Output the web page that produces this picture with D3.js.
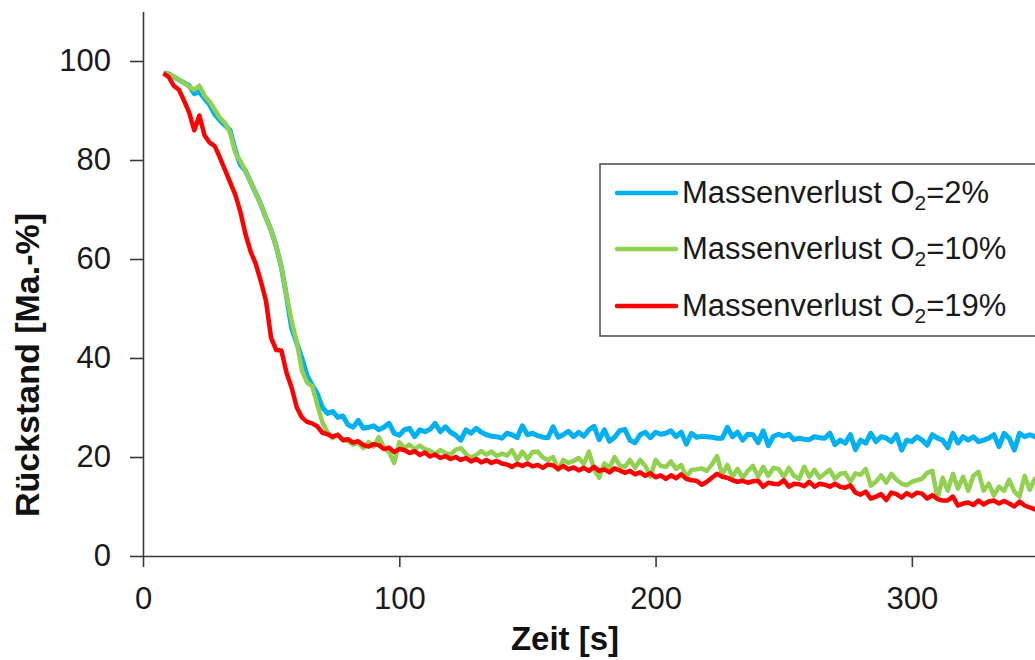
<!DOCTYPE html>
<html>
<head>
<meta charset="utf-8">
<script src="https://cdnjs.cloudflare.com/ajax/libs/d3/7.8.5/d3.min.js"></script>
<style>
  body { margin: 0; background: #fff; }
  svg { display: block; }
</style>
</head>
<body>
<div id="viz"></div>
<script>
// Zeitachse [s]
var zeit = [
  8, 10, 12, 14, 16, 18, 20, 22, 24, 26,
  28, 30, 32, 34, 36, 38, 40, 42, 44, 46,
  48, 50, 52, 54, 56, 58, 60, 62, 64, 66,
  68, 70, 72, 74, 76, 78, 80, 82, 84, 86,
  88, 90, 92, 94, 96, 98, 100, 102, 104, 106,
  108, 110, 112, 114, 116, 118, 120, 122, 124, 126,
  128, 130, 132, 134, 136, 138, 140, 142, 144, 146,
  148, 150, 152, 154, 156, 158, 160, 162, 164, 166,
  168, 170, 172, 174, 176, 178, 180, 182, 184, 186,
  188, 190, 192, 194, 196, 198, 200, 202, 204, 206,
  208, 210, 212, 214, 216, 218, 220, 222, 224, 226,
  228, 230, 232, 234, 236, 238, 240, 242, 244, 246,
  248, 250, 252, 254, 256, 258, 260, 262, 264, 266,
  268, 270, 272, 274, 276, 278, 280, 282, 284, 286,
  288, 290, 292, 294, 296, 298, 300, 302, 304, 306,
  308, 310, 312, 314, 316, 318, 320, 322, 324, 326,
  328, 330, 332, 334, 336, 338, 340, 342, 344, 346,
  348, 350
];

// Rueckstand [Ma.-%] bei O2 = 2%
var rueckstand2 = [
  97.6, 97.4, 96.8, 96.2, 95.6, 95.0, 93.4, 93.8, 92.4, 91.2,
  89.2, 88.0, 87.0, 86.0, 82.0, 79.0, 77.8, 75.5, 73.3, 71.0,
  68.3, 65.8, 62.5, 58.3, 52.5, 46.0, 43.0, 40.0, 36.5, 34.5,
  32.8, 30.0, 28.8, 29.2, 28.0, 28.3, 26.5, 26.0, 27.4, 25.8,
  26.0, 26.3, 25.5, 26.0, 26.8, 24.8, 24.4, 25.5, 25.8, 24.1,
  25.5, 25.1, 25.6, 26.8, 25.1, 26.1, 25.0, 24.4, 23.4, 25.5,
  24.8, 25.8, 25.0, 24.5, 24.2, 24.1, 23.8, 24.8, 24.5, 23.9,
  26.3, 24.5, 24.8, 24.3, 24.0, 23.9, 26.1, 24.0, 24.5, 25.2,
  24.1, 25.0, 24.2, 25.5, 26.2, 23.5, 25.5, 23.2, 24.0, 25.3,
  25.6, 23.4, 22.9, 24.5, 25.0, 23.9, 25.0, 24.6, 24.8, 25.3,
  24.1, 25.0, 22.6, 24.8, 24.0, 24.2, 24.1, 24.0, 23.8, 23.8,
  26.0, 24.1, 25.0, 23.4, 24.6, 24.5, 22.9, 25.3, 22.3, 24.2,
  24.6, 24.2, 24.6, 23.5, 23.8, 23.6, 23.5, 24.1, 23.9, 23.8,
  24.8, 22.5, 23.4, 22.8, 24.5, 21.5, 23.4, 22.8, 24.8, 23.1,
  24.1, 23.8, 23.1, 24.5, 21.4, 23.4, 23.1, 24.1, 23.4, 22.4,
  24.5, 23.8, 23.4, 21.9, 24.8, 22.8, 24.1, 23.4, 24.1, 23.1,
  23.4, 23.8, 24.5, 22.1, 24.8, 23.8, 21.4, 24.8, 24.1, 24.5,
  24.1, 24.0
];

// Rueckstand [Ma.-%] bei O2 = 10%
var rueckstand10 = [
  97.6, 97.3, 96.9, 96.2, 95.6, 94.8, 94.2, 95.0, 93.0, 91.8,
  90.2, 88.5, 87.5, 85.5, 81.5, 79.8, 77.8, 75.5, 73.3, 71.0,
  68.3, 65.8, 62.5, 58.3, 52.5, 47.5, 43.2, 37.5, 35.0, 34.3,
  30.5, 27.0, 25.0, 23.8, 24.5, 23.5, 23.2, 22.5, 22.8, 21.8,
  23.0, 22.1, 24.0, 22.0, 21.0, 18.8, 23.0, 21.8, 22.5, 21.6,
  22.3, 21.6, 21.3, 20.6, 21.4, 20.8, 20.5, 21.5, 21.8, 20.6,
  19.8, 20.4, 21.2, 20.5, 21.1, 20.2, 20.7, 20.3, 21.4, 19.4,
  21.1, 19.6, 21.0, 21.1, 19.9, 19.4, 20.0, 17.4, 19.4, 18.8,
  19.2, 19.8, 18.6, 21.1, 17.5, 15.8, 18.7, 17.8, 20.0, 18.3,
  18.0, 19.4, 17.8, 19.4, 18.2, 16.0, 19.4, 18.2, 18.0, 19.1,
  17.6, 18.4, 16.0, 17.4, 17.5, 17.7, 17.2, 18.5, 20.2, 16.4,
  18.4, 16.0, 17.6, 15.8, 17.2, 18.2, 16.0, 18.0, 16.2, 17.8,
  17.6, 16.0, 17.8, 16.2, 15.6, 18.0, 16.0, 17.4, 15.8, 16.6,
  17.4, 15.6, 16.6, 16.8, 15.0, 16.7, 16.4, 17.6, 14.2, 15.0,
  16.3, 14.8, 16.6, 15.4, 14.6, 14.3, 15.0, 15.3, 15.6, 16.8,
  17.2, 11.6, 15.8, 13.2, 16.6, 13.6, 16.0, 13.2, 16.2, 17.0,
  13.2, 14.6, 12.2, 14.0, 13.2, 15.4, 13.0, 12.0, 16.2, 13.4,
  15.6, 13.8
];

// Rueckstand [Ma.-%] bei O2 = 19%
var rueckstand19 = [
  97.5, 96.8, 95.0, 94.2, 92.0, 89.6, 86.0, 89.0, 85.0, 83.5,
  82.8, 80.5, 78.0, 75.5, 73.0, 69.5, 65.0, 61.5, 59.0, 55.5,
  51.5, 44.0, 41.6, 41.5, 37.0, 34.0, 30.0, 28.0, 27.1, 26.8,
  26.2, 24.9, 24.6, 24.1, 24.5, 23.4, 23.6, 22.9, 23.2, 22.4,
  22.1, 22.6, 22.4, 21.6, 21.9, 21.0, 21.6, 21.4, 20.8, 21.2,
  20.4, 20.9, 20.1, 20.5, 19.8, 20.2, 19.6, 20.0, 19.4, 19.8,
  19.1, 19.6, 18.9, 19.4, 18.8, 19.2, 18.7, 18.5, 18.0, 18.6,
  18.2, 18.7, 18.1, 18.4, 17.8, 18.5, 18.3, 17.6, 18.2, 17.5,
  17.9, 17.3, 17.8, 17.2, 18.0, 17.2, 17.5, 16.9, 17.7, 17.3,
  16.8, 17.2, 16.5, 16.9, 16.2, 16.7, 15.9, 16.3, 15.6, 16.3,
  15.7, 16.5, 15.6, 15.3, 15.2, 14.4, 15.0, 15.8, 16.6, 16.0,
  15.8, 15.3, 15.0, 15.2, 14.8, 15.1, 15.2, 14.0, 14.8, 14.6,
  14.5, 15.3, 14.0, 14.6, 14.5, 14.1, 15.0, 14.0, 14.6, 14.4,
  14.0, 14.6, 14.0, 13.8, 14.3, 12.8, 12.4, 13.0, 11.6, 12.0,
  12.5, 11.3, 12.8, 12.5, 11.8, 12.7, 12.1, 12.8, 12.6, 11.6,
  12.3, 11.5, 11.2, 11.2, 12.0, 10.2, 10.6, 10.8, 10.3, 11.2,
  10.4, 11.0, 11.2, 10.6, 11.1, 10.6, 10.0, 11.0, 10.2, 9.8,
  9.4, 9.6
];

// Achsen und Legende
var xTicks = [0, 100, 200, 300];
var yTicks = [0, 20, 40, 60, 80, 100];
var legendeText = 'Massenverlust O';
var legendeO2 = ['=2%', '=10%', '=19%'];
var farben = ['#00b0f0', '#92d050', '#ff0000'];

var width = 1035,
    height = 660;

var svg = d3.select('#viz')
  .append('svg')
  .attr('width', width)
  .attr('height', height)
  .style('background', '#ffffff')
  .style('font-family', '"Liberation Sans", Arial, sans-serif');

var x = d3.scaleLinear().domain([0, 350]).range([143, 1040]);
var y = d3.scaleLinear().domain([0, 110]).range([556, 11.5]);

// X-Achse
var gX = svg.append('g')
  .attr('transform', 'translate(0,' + y(0) + ')')
  .call(d3.axisBottom(x).tickValues(xTicks).tickSize(11).tickSizeOuter(0).tickPadding(20));

// Y-Achse
var gY = svg.append('g')
  .attr('transform', 'translate(' + x(0) + ',0)')
  .call(d3.axisLeft(y).tickValues(yTicks).tickSize(13).tickSizeOuter(0).tickPadding(19));

[gX, gY].forEach(function (g) {
  g.select('.domain').attr('stroke', '#3a3a3a').attr('stroke-width', 1.6);
  g.selectAll('.tick line').attr('stroke', '#3a3a3a').attr('stroke-width', 1.6);
  g.selectAll('.tick text')
    .attr('fill', '#1a1a1a')
    .style('font-size', '31px')
    .style('font-family', '"Liberation Sans", Arial, sans-serif');
});

// Achsentitel
svg.append('text')
  .attr('transform', 'translate(39,365) rotate(-90)')
  .attr('text-anchor', 'middle')
  .style('font-size', '34px')
  .style('font-weight', 'bold')
  .attr('fill', '#111')
  .text('Rückstand [Ma.-%]');

svg.append('text')
  .attr('x', 565)
  .attr('y', 650)
  .attr('text-anchor', 'middle')
  .style('font-size', '33px')
  .style('font-weight', 'bold')
  .attr('fill', '#111')
  .text('Zeit [s]');

// Kurven
var linie = d3.line()
  .x(function (d, i) { return x(zeit[i]); })
  .y(function (d) { return y(d); });

var reihen = [rueckstand2, rueckstand10, rueckstand19];
var breiten = [5, 4.5, 4.5];

for (var i = 0; i < reihen.length; i++) {
  svg.append('path')
    .datum(reihen[i])
    .attr('d', linie)
    .attr('fill', 'none')
    .attr('stroke', farben[i])
    .attr('stroke-width', breiten[i])
    .attr('stroke-linejoin', 'round');
}

// Legende
var gLegende = svg.append('g');
gLegende.append('rect')
  .attr('x', 600)
  .attr('y', 164)
  .attr('width', 500)
  .attr('height', 172)
  .attr('fill', '#fff')
  .attr('stroke', '#4a4a4a')
  .attr('stroke-width', 1.5);

var legendeY = [193, 249, 306];
for (var j = 0; j < legendeO2.length; j++) {
  gLegende.append('line')
    .attr('x1', 617)
    .attr('x2', 676)
    .attr('y1', legendeY[j])
    .attr('y2', legendeY[j])
    .attr('stroke', farben[j])
    .attr('stroke-width', 4.5)
    .attr('stroke-linecap', 'round');

  var t = gLegende.append('text')
    .attr('x', 682)
    .attr('y', legendeY[j] + 10)
    .attr('fill', '#1a1a1a')
    .style('font-size', '31px');
  t.append('tspan').text(legendeText);
  t.append('tspan').attr('dy', 7).style('font-size', '21px').text('2');
  t.append('tspan').attr('dy', -7).text(legendeO2[j]);
}
</script>
</body>
</html>
